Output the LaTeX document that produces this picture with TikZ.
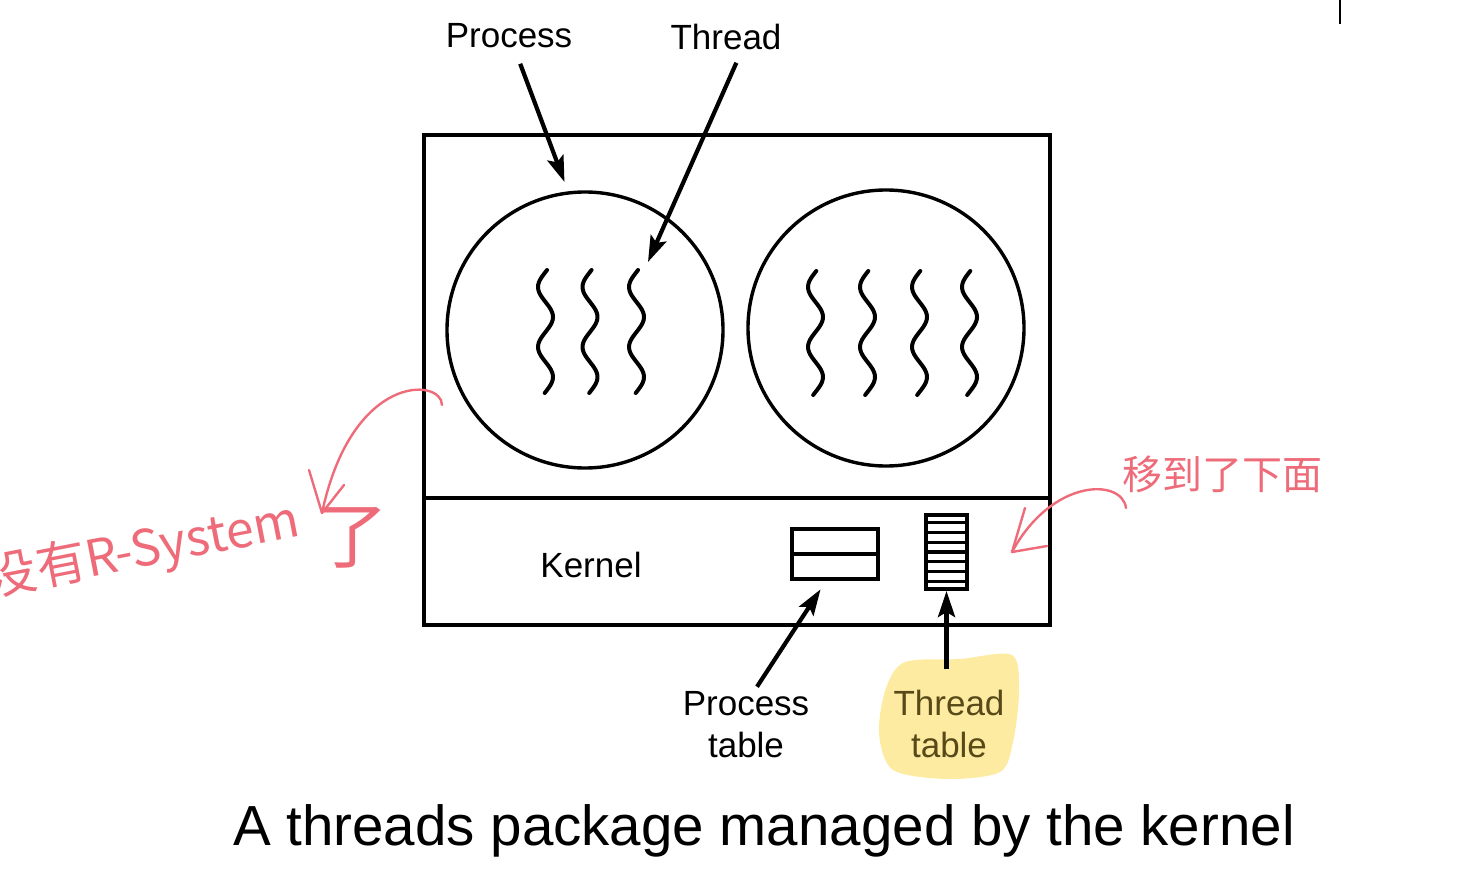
\documentclass[tikz,border=0pt]{standalone}
\usepackage{fontspec}
\setmainfont{Liberation Sans}
\newfontfamily\cjk{Noto Sans CJK SC}
\usetikzlibrary{arrows.meta,positioning,calc}
\definecolor{inkpink}{RGB}{238,108,122}
\definecolor{hilite}{RGB}{252,235,160}
\definecolor{olivetext}{RGB}{88,74,24}

\begin{document}
\begin{tikzpicture}[x=1pt,y=-1pt,
        lbl/.style={font=\fontsize{35}{42}\selectfont, inner sep=4pt, align=center, anchor=base},
        area/.style={draw, line width=3.4pt, minimum width=626pt, inner sep=0pt},
        proc/.style={circle, draw, line width=3.4pt, minimum size=276pt, inner sep=0pt},
        ptr/.style={-{Stealth[length=26pt,width=17pt,inset=5pt]}, line width=4.2pt},
        tbl/.style={draw, line width=4pt, inner sep=0pt},
        thread/.style={line width=4pt, line cap=round},
        pen/.style={inkpink, line width=2.4pt, line cap=round, line join=round},
        scrawl/.style={inkpink, inner sep=0pt},
    ]
        \useasboundingbox (0,0) rectangle (1466,877);
        \clip (0,0) rectangle (1466,877);

        % Highlight behind the thread table label
        \fill[hilite] plot[smooth cycle] coordinates {(905,662) (960,659) (1012,655) (1019,692) (1013,742) (1000,772) (948,779) (893,770) (879,733) (886,688)};

        % User space and kernel
        \node[area, minimum height=363pt] (userbox) at (737,316.5) {};
        \node[area, minimum height=127pt] (kernbox) at (737,561.5) {};

        % Processes
        \node[proc] (procA) at (585,330) {};
        \node[proc] (procB) at (886,328) {};

        % Threads
        \foreach \cx [count=\i] in {545.5,590,636.5} {
            \coordinate (la\i) at (\cx,270);
            \draw[thread] plot[domain=270:393, samples=50, smooth] ({\cx-7.5*sin(6*(\x-272))},\x);
        }
        \foreach \cx [count=\i] in {815.5,867.5,919.5,969.5} {
            \coordinate (lb\i) at (\cx,270);
            \draw[thread] plot[domain=271:395, samples=50, smooth] ({\cx-7.5*sin(6*(\x-272))},\x);
        }

        % Tables in the kernel
        \node[tbl, minimum width=86pt, minimum height=50pt] (ptab) at (835,554) {};
        \draw[line width=3.4pt] (ptab.west) -- (ptab.east);
        \node[tbl, minimum width=41pt, minimum height=74pt] (ttab) at (946.5,552) {};
        \foreach \k in {1,...,7}
            \draw[line width=3.2pt] ($(ttab.north west)!\k/8!(ttab.south west)$) -- ($(ttab.north east)!\k/8!(ttab.south east)$);

        % Labels
        \node[lbl] (proclbl) at (509,48) {Process};
        \node[lbl] (thrlbl) at (726,50) {Thread};
        \node[lbl] (kernlbl) at (591,577) {Kernel};
        \node[lbl] (ptablbl) at (746,757) {Process\\table};
        \node[lbl, text=olivetext] (ttablbl) at (949,757) {Thread\\table};
        \node[lbl, font=\fontsize{56.5}{60}\selectfont] (caption) at (764,845) {A threads package managed by the kernel};

        % Pointers
        \coordinate (thrTip) at (648,262);
        \draw[ptr, shorten <=12pt, shorten >=10pt] ([xshift=7pt]proclbl.south) -- (procA.97);
        \draw[ptr, shorten <=9pt] ([xshift=14pt]thrlbl.south) -- (thrTip);
        \draw[ptr, shorten >=10pt] ([xshift=11pt]ptablbl.north) -- ([xshift=-9pt]ptab.south);
        \draw[ptr, shorten <=16pt] (ttablbl.north -| ttab.south) -- (ttab.south);

        % Handwritten notes
        \node[scrawl, font=\cjk\fontsize{50}{50}\selectfont, rotate=11, anchor=base east] (lnote) at (302,536) {没有R-System};
        \node[scrawl, font=\cjk\fontsize{72}{72}\selectfont] (lnote2) at (352,538) {了};
        \node[scrawl, font=\cjk\fontsize{40}{40}\selectfont] (rnote) at (1222,474) {移到了下面};
        \coordinate (lnoteStart) at (442,405);
        \coordinate (lnoteTip) at (322,513);
        \draw[pen] (lnoteStart) .. controls (442,378) and (352,372) .. (lnoteTip);
        \draw[pen] ([shift={(-13,-43)}]lnoteTip) -- (lnoteTip) -- ([shift={(22,-28)}]lnoteTip);
        \coordinate (rnoteStart) at (1126,508);
        \coordinate (rnoteTip) at (1012,552);
        \draw[pen] (rnoteStart) .. controls (1122,478) and (1052,478) .. (rnoteTip);
        \draw[pen] ([shift={(13,-44)}]rnoteTip) -- (rnoteTip) -- ([shift={(35,-6)}]rnoteTip);

        % Cursor mark
        \draw[line width=2pt] (1340,0) -- (1340,24);
    \end{tikzpicture}
\end{document}
